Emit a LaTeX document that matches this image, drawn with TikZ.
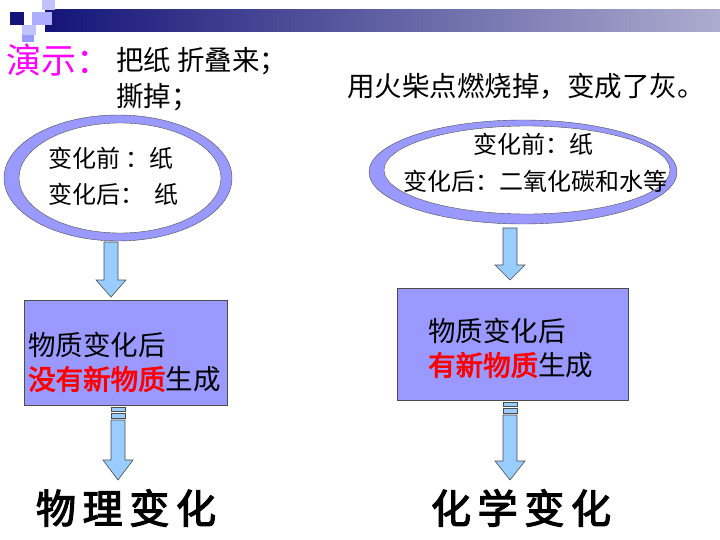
\documentclass[tikz,border=0pt]{standalone}
\usepackage{fontspec}
\newfontfamily\cjk{Noto Sans CJK SC}
\newfontfamily\cjkb{Noto Sans CJK SC}[FakeBold=3]
\usetikzlibrary{shapes.arrows}
\definecolor{lav}{RGB}{153,153,255}
\definecolor{arr}{RGB}{153,204,255}
\definecolor{navy}{RGB}{20,20,120}
\definecolor{mag}{RGB}{255,0,255}
\tikzset{
  txt/.style={font=\cjk\fontsize{27.5}{34}\selectfont, inner sep=0pt, align=left},
  small/.style={font=\cjk\fontsize{24}{36}\selectfont, inner sep=0pt, align=left},
  boxx/.style={draw=black!70, fill=lav, line width=0.8pt},
  big/.style={font=\cjkb\fontsize{40}{44}\selectfont, inner sep=0pt},
  darrow/.style={draw=black!70, fill=arr, line width=0.6pt}
}
\begin{document}
\begin{tikzpicture}[x=1pt,y=-1pt]
\useasboundingbox (0,0) rectangle (720,540);
% banner
\shade[left color=navy, right color=navy!35] (45,10) rectangle (720,32);
\fill[navy] (10,12) rectangle (24,25);
\fill[lav!80] (32,12) rectangle (52,25);
\fill[lav!60] (22,25) rectangle (36,35);
\fill[lav] (22,35) rectangle (34,42);
\fill[lav!60] (42,0) rectangle (55,10);
% texts
\node[font=\cjk\fontsize{35}{38}\selectfont, text=mag, anchor=west, inner sep=0pt] (t0) at (6,60) {演示：};
\node[txt, anchor=west] (t1) at (116,61) {把纸 折叠来；};
\node[txt, anchor=west] (t2) at (116,97) {撕掉；};
\node[txt, anchor=west] (t3) at (347,86) {用火柴点燃烧掉，变成了灰。};
% left ellipse
\fill[lav] (118,178) ellipse [x radius=114, y radius=63];
\draw[black!70] (118,178) ellipse [x radius=114, y radius=63];
\filldraw[fill=white, draw=black!70] (120,178) ellipse [x radius=101, y radius=55];
\node[small, anchor=west] (e1) at (48,176) {变化前 ：纸\\变化后：\ \ 纸};
% right ellipse
\fill[lav] (523,172) ellipse [x radius=154, y radius=52];
\draw[black!70] (523,172) ellipse [x radius=154, y radius=52];
\filldraw[fill=white, draw=black!70] (527,170) ellipse [x radius=143, y radius=44];
\node[small, anchor=north] (e2a) at (533,133) {变化前：纸};
\node[small, anchor=north west] (e2b) at (403,170) {变化后：二氧化碳和水等};
% boxes
\draw[boxx] (24,300) rectangle (227,405);
\node[txt, anchor=west] (b1) at (28,362) {物质变化后\\{\color{red}\cjkb 没有新物质}生成};
\draw[boxx] (397,288) rectangle (628,400);
\node[txt, anchor=west] (b2) at (428,348) {物质变化后\\{\color{red}\cjkb 有新物质}生成};
% arrows
\draw[darrow] (104,242) -- (118,242) -- (118,280) -- (126,280) -- (111,297) -- (96,280) -- (104,280) -- cycle;
\draw[darrow] (503,228) -- (517,228) -- (517,265) -- (525,265) -- (510,280) -- (495,265) -- (503,265) -- cycle;
\draw[darrow] (111,407) rectangle (125,411);
\draw[darrow] (111,413) rectangle (125,418);
\draw[darrow] (111,420) -- (125,420) -- (125,460) -- (133,460) -- (118,480) -- (103,460) -- (111,460) -- cycle;
\draw[darrow] (503,402) rectangle (517,406);
\draw[darrow] (503,408) rectangle (517,413);
\draw[darrow] (503,415) -- (517,415) -- (517,461) -- (525,461) -- (510,480) -- (495,461) -- (503,461) -- cycle;
\node[big] (w1) at (126,508) {物\,理\,变\,化};
\node[big] (w2) at (521,508) {化\,学\,变\,化};
\end{tikzpicture}
\end{document}
